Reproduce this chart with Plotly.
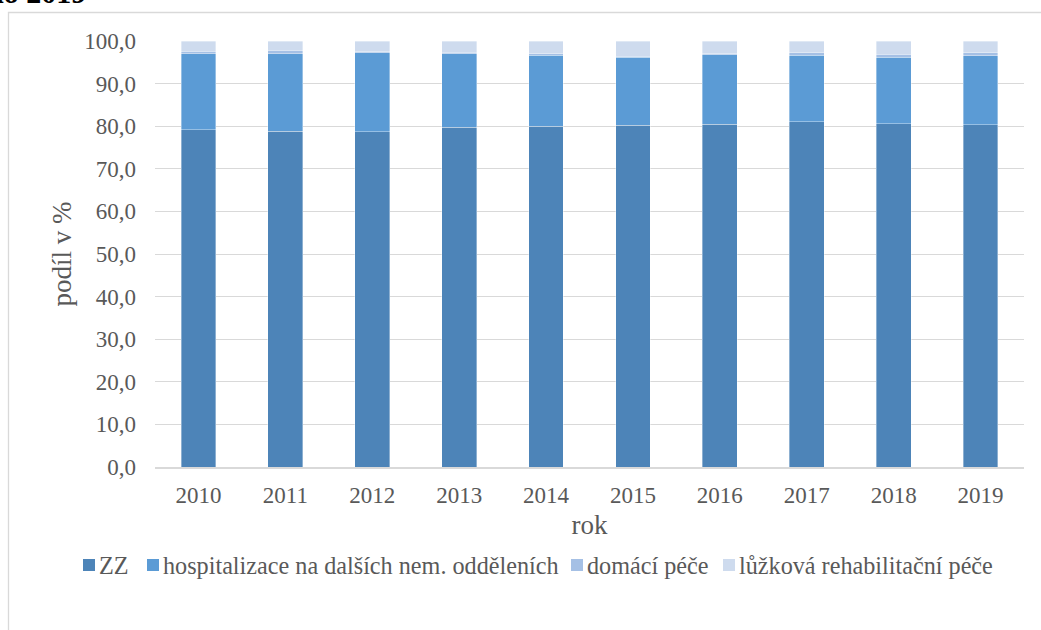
import plotly.graph_objects as go

roky = ["2010", "2011", "2012", "2013", "2014", "2015", "2016", "2017", "2018", "2019"]
zz = [79.2, 78.8, 78.7, 79.7, 80.0, 80.2, 80.5, 81.1, 80.6, 80.3]
hospitalizace = [17.8, 18.2, 18.5, 17.3, 16.6, 16.0, 16.3, 15.6, 15.6, 16.2]
domaci = [0.6, 0.8, 0.3, 0.4, 0.4, 0.2, 0.2, 0.6, 0.7, 0.8]
rehabilitace = [2.4, 2.2, 2.5, 2.6, 3.0, 3.6, 3.0, 2.7, 3.1, 2.7]
y_ticks = [0, 10, 20, 30, 40, 50, 60, 70, 80, 90, 100]

serie = [
    ("ZZ", zz, "#4d84b8"),
    ("hospitalizace na dalších nem. odděleních", hospitalizace, "#5b9bd5"),
    ("domácí péče", domaci, "#a5c0e5"),
    ("lůžková rehabilitační péče", rehabilitace, "#cedbee"),
]

FONT = "Liberation Serif"
SEDA = "#595959"

# plocha grafu v pixelech stránky
L, R, T, B = 155, 1024, 41, 467


def px_x(p):
    return (p - L) / (R - L)


def px_y(p):
    return (B - p) / (B - T)


fig = go.Figure()
for nazev, hodnoty, barva in serie:
    fig.add_trace(go.Bar(
        x=roky, y=hodnoty, name=nazev, showlegend=False,
        marker=dict(color=barva, line=dict(color="rgba(255,255,255,0.45)", width=0.8)),
    ))

# legenda ve stylu Excelu (malé čtverečky těsně u textu)
leg_x = [83, 147, 571, 723]
for (nazev, _, barva), x0 in zip(serie, leg_x):
    fig.add_shape(type="rect", xref="paper", yref="paper",
                  x0=px_x(x0), x1=px_x(x0 + 12), y0=px_y(571), y1=px_y(559),
                  fillcolor=barva, line=dict(width=0))
    fig.add_annotation(text=nazev, xref="paper", yref="paper",
                       x=px_x(x0 + 14), y=px_y(565),
                       xanchor="left", yanchor="middle", showarrow=False,
                       font=dict(family=FONT, size=24.2, color=SEDA))

# rám grafu (useknutý obrázek)
fig.add_shape(type="rect", xref="paper", yref="paper",
              x0=px_x(8.5), x1=px_x(1050), y0=px_y(700), y1=px_y(12.5),
              line=dict(color="#d9d9d9", width=1.3), layer="below")

# useknutý nadpis nahoře
fig.add_annotation(text="<b>do 2019</b>", xref="paper", yref="paper",
                   x=px_x(88), y=px_y(11),
                   xanchor="right", yanchor="bottom", showarrow=False,
                   font=dict(family=FONT, size=30, color="black"))

fig.update_layout(
    barmode="stack",
    bargap=0.6,
    width=1041, height=630,
    paper_bgcolor="white", plot_bgcolor="white",
    margin=dict(l=L, r=1041 - R, t=T, b=630 - B),
    font=dict(family=FONT, size=23, color=SEDA),
    xaxis=dict(
        title=dict(text="rok", font=dict(family=FONT, size=27, color=SEDA), standoff=8),
        showline=True, linecolor="#d9d9d9", linewidth=1.5,
        ticks="", ticklabelstandoff=7,
        tickfont=dict(family=FONT, size=23, color=SEDA),
    ),
    yaxis=dict(
        title=dict(text="podíl v %", font=dict(family=FONT, size=27, color=SEDA), standoff=4),
        range=[0, 100], tickvals=y_ticks,
        ticktext=[f"{v:.1f}".replace(".", ",") for v in y_ticks],
        showgrid=True, gridcolor="#d9d9d9", gridwidth=1.2,
        zeroline=False, showline=False, ticks="", ticklabelstandoff=18,
        tickfont=dict(family=FONT, size=23, color=SEDA),
    ),
    showlegend=False,
)

fig.write_html("out.html", config={"displayModeBar": False},
               post_script="document.body.style.margin='0';")
